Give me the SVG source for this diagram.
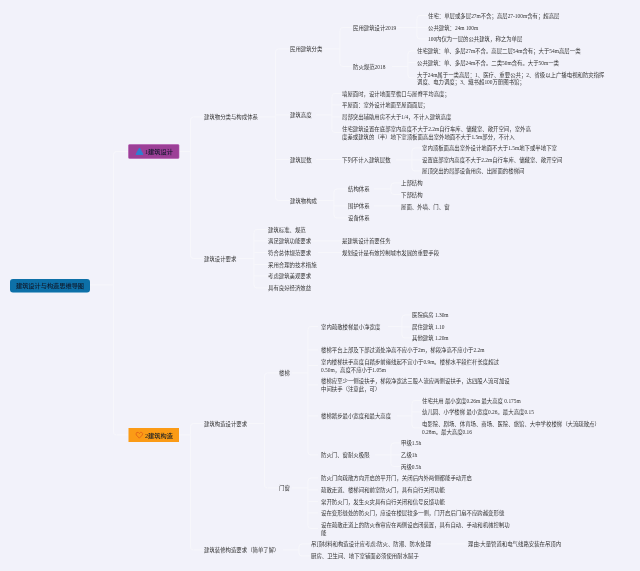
<svg xmlns="http://www.w3.org/2000/svg" width="640" height="571" viewBox="0 0 640 571">
<defs><filter id="soft" x="0" y="0" width="100%" height="100%"><feGaussianBlur stdDeviation="0.3"/></filter></defs>
<style>
text{font-family:"Liberation Serif","Noto Sans CJK SC",sans-serif;font-size:5.4px;fill:#333}
.c{fill:none;stroke:#f7f7fc;stroke-width:.9}
.h{font-size:6.2px;fill:#10192a;font-weight:500}
</style>
<rect width="640" height="571" fill="#f2f2fa"/>
<g filter="url(#soft)">
<g id="connectors" class="c">
<path d="M90 285H113.500M128.500 151.500H116.500Q113.500 151.500 113.500 154.500V432Q113.500 435 116.500 435H128.500"/>
<path d="M179 151.500H190.500M204 117H193.500Q190.500 117 190.500 120V255.500Q190.500 258.500 193.500 258.500H204"/>
<path d="M179 435H190.500M204 423.500H193.500Q190.500 423.500 190.500 426.500V547Q190.500 550 193.500 550H204"/>
<path d="M259 117H275.500M290 49H278.500Q275.500 49 275.500 52V197.500Q275.500 200.500 278.500 200.500H290M275.500 115H290M275.500 159.500H290"/>
<path d="M323 49H340M353 27.500H343Q340 27.500 340 30.500V63.500Q340 66.500 343 66.500H353"/>
<path d="M397 27.500H417M428 15.500H420Q417 15.500 417 18.500V36Q417 39 420 39H428M417 27.500H428"/>
<path d="M392 66.500H408M417 51H411Q408 51 408 54V75Q408 78 411 78H417M408 62.500H417"/>
<path d="M316 115H332M342 93.500H335Q332 93.500 332 96.500V129.500Q332 132.500 335 132.500H342M332 105H342M332 117H342"/>
<path d="M316 159.500H342"/>
<path d="M396 160H412M422 148H415Q412 148 412 151V168Q412 171 415 171H422M412 160H422"/>
<path d="M318 200.500H334M348 189H337Q334 189 334 192V215Q334 218 337 218H348M334 206H348"/>
<path d="M374 189H391M401 183H394Q391 183 391 186V191.500Q391 194.500 394 194.500H401M374 206H401"/>
<path d="M238 258.500H254M268 229.500H257Q254 229.500 254 232.500V285Q254 288 257 288H268M254 241H268M254 252.500H268M254 264.500H268M254 276H268"/>
<path d="M312 241H342M318 252.500H342"/>
<path d="M248 423.500H264.500M279 373H267.500Q264.500 373 264.500 376V485Q264.500 488 267.500 488H279"/>
<path d="M292 373H308M318 326.500H311Q308 326.500 308 329.500V452Q308 455 311 455H318M308 350H318M308 365.500H318M308 385H318M308 416H318"/>
<path d="M388 326.500H402M412 315H405Q402 315 402 318V335Q402 338 405 338H412M402 327H412"/>
<path d="M397 416H412M422 400.500H415Q412 400.500 412 403.500V425Q412 428 415 428H422M412 412H422"/>
<path d="M375 455H391M401 443H394Q391 443 391 446V463.500Q391 466.500 394 466.500H401M391 455H401"/>
<path d="M292 488H308M318 478H311Q308 478 308 481V525.500Q308 528.500 311 528.500H318M308 490H318M308 501.500H318M308 513H318"/>
<path d="M283 550H299M311 544H302Q299 544 299 547V553Q299 556 302 556H311"/>
<path d="M437 544H466"/>
</g>
<g id="root"><rect x="10" y="279" width="80" height="13.500" rx="3" fill="#0a6fa8"/><text class="h" x="50" y="288" text-anchor="middle">建筑设计与构造思维导图</text></g>
<g id="design"><rect x="128.500" y="144.500" width="50.500" height="14" rx="1" fill="#9c3f97" stroke="#b45bb0" stroke-width=".6"/><path d="M139.500 148L143 154.500H136Z" fill="#2f7fd0" stroke="#2f7fd0" stroke-width="1" stroke-linejoin="round"/><text class="h" x="145" y="154">1建筑设计</text></g>
<g id="structure"><rect x="128.500" y="428" width="50.500" height="14" fill="#fb9b12"/><path d="M139.300 438.200L136.300 435Q135.400 433 137 432.400Q138.500 432 139.300 433.500Q140.200 432 141.700 432.400Q143.300 433 142.300 435Z" fill="none" stroke="#d9481c" stroke-width=".6"/><text class="h" x="145" y="437.500">2建筑构造</text></g>
<g id="n01"><text x="204" y="119">建筑物分类与构成体系</text></g>
<g id="n02"><text x="290" y="51">民用建筑分类</text></g>
<g id="n03"><text x="353" y="29.500">民用建筑设计2019</text></g>
<g id="n04"><text x="428" y="17.500">住宅：单层或多层27m不含；高层27-100m含有；超高层</text></g>
<g id="n05"><text x="428" y="29.500">公共建筑：24m 100m</text></g>
<g id="n06"><text x="428" y="41">100内仅为一层的公共建筑，称之为单层</text></g>
<g id="n07"><text x="353" y="68.500">防火规范2018</text></g>
<g id="n08"><text x="417" y="53">住宅建筑：单、多层27m不含。高层二层54m含有；大于54m高层一类</text></g>
<g id="n09"><text x="417" y="64.500">公共建筑：单、多层24m不含。二类50m含有。大于50m一类</text></g>
<g id="n10"><text x="417" y="76.500">大于24m属于一类高层：1、医疗、重要公共；2、省级以上广播电视和防灾指挥<tspan x="417" dy="7.800">调度、电力调度；3、藏书超100万册图书馆；</tspan></text></g>
<g id="n11"><text x="290" y="117">建筑高度</text></g>
<g id="n12"><text x="342" y="95.500">墙屋面时，设计地面至檐口与屋脊平均高度；</text></g>
<g id="n13"><text x="342" y="107">平屋面：室外设计地面至屋面面层；</text></g>
<g id="n14"><text x="342" y="119">局部突出辅助用房不大于1/4，不计入建筑高度</text></g>
<g id="n15"><text x="342" y="130.500">住宅建筑设置在底部室内高度不大于2.2m自行车库、储藏室、敞开空间，室外高<tspan x="342" dy="8">度差或建筑的（半）地下室顶板面高出室外地面不大于1.5m部分，不计入</tspan></text></g>
<g id="n16"><text x="290" y="161.500">建筑层数</text></g>
<g id="n17"><text x="342" y="162">下列不计入建筑层数</text></g>
<g id="n18"><text x="422" y="150">室内顶板面高出室外设计地面不大于1.5m地下或半地下室</text></g>
<g id="n19"><text x="422" y="162">设置底部室内高度不大于2.2m自行车库、储藏室、敞开空间</text></g>
<g id="n20"><text x="422" y="173">屋顶突出的局部设备用房、出屋面的楼梯间</text></g>
<g id="n21"><text x="290" y="202.500">建筑物构成</text></g>
<g id="n22"><text x="348" y="191">结构体系</text></g>
<g id="n23"><text x="348" y="208">围护体系</text></g>
<g id="n24"><text x="348" y="220">设备体系</text></g>
<g id="n25"><text x="401" y="185">上部结构</text></g>
<g id="n26"><text x="401" y="196.500">下部结构</text></g>
<g id="n27"><text x="401" y="208.500">屋面、外墙、门、窗</text></g>
<g id="n28"><text x="204" y="260.500">建筑设计要求</text></g>
<g id="n29"><text x="268" y="231.500">建筑标准、规范</text></g>
<g id="n30"><text x="268" y="243">满足建筑功能要求</text></g>
<g id="n31"><text x="268" y="254.500">符合总体规范要求</text></g>
<g id="n32"><text x="268" y="266.500">采用合理的技术措施</text></g>
<g id="n33"><text x="268" y="278">考虑建筑美观要求</text></g>
<g id="n34"><text x="268" y="290">具有良好经济效益</text></g>
<g id="n35"><text x="342" y="243">是建筑设计首要任务</text></g>
<g id="n36"><text x="342" y="254.500">规划设计是有效控制城市发展的重要手段</text></g>
<g id="n37"><text x="204" y="425.500">建筑构造设计要求</text></g>
<g id="n38"><text x="279" y="375">楼梯</text></g>
<g id="n39"><text x="321" y="328.500">室内疏散楼梯最小净宽度</text></g>
<g id="n40"><text x="412" y="317">医院病房 1.30m</text></g>
<g id="n41"><text x="412" y="329">居住建筑 1.10</text></g>
<g id="n42"><text x="412" y="340">其他建筑 1.20m</text></g>
<g id="n43"><text x="321" y="352">楼梯平台上部及下部过道处净高不应小于2m，梯段净高不应小于2.2m</text></g>
<g id="n44"><text x="321" y="363.500">室内楼梯扶手高度自踏步前缘线起不宜小于0.9m。楼梯水平段栏杆长度超过<tspan x="321" dy="8">0.50m，高度不应小于1.05m</tspan></text></g>
<g id="n45"><text x="321" y="383">楼梯应至少一侧设扶手，梯段净宽达三股人流应两侧设扶手，达四股人流可加设<tspan x="321" dy="8">中间扶手（注意此，可）</tspan></text></g>
<g id="n46"><text x="321" y="418">楼梯踏步最小宽度和最大高度</text></g>
<g id="n47"><text x="422" y="402.500">住宅共用 最小宽度0.26m 最大高度 0.175m</text></g>
<g id="n48"><text x="422" y="414">幼儿园、小学楼梯 最小宽度0.26。最大高度0.15</text></g>
<g id="n49"><text x="422" y="426">电影院、剧场、体育场、商场、医院、旅馆、大中学校楼梯（大流疏散点）<tspan x="422" dy="7.800">0.28m。最大高度0.16</tspan></text></g>
<g id="n50"><text x="321" y="457">防火门、窗耐火极限</text></g>
<g id="n51"><text x="401" y="445">甲级1.5h</text></g>
<g id="n52"><text x="401" y="457">乙级1h</text></g>
<g id="n53"><text x="401" y="468.500">丙级0.5h</text></g>
<g id="n54"><text x="279" y="490">门窗</text></g>
<g id="n55"><text x="321" y="480">防火门向疏散方向开启的平开门，关闭后内外两侧都能手动开启</text></g>
<g id="n56"><text x="321" y="492">疏散走道、楼梯间和前室防火门，具有自行关闭功能</text></g>
<g id="n57"><text x="321" y="503.500">常开防火门，发生火灾具有自行关闭和信号反馈功能</text></g>
<g id="n58"><text x="321" y="515">设在变形缝处的防火门，应设在楼层较多一侧，门开启后门扇不应跨越变形缝</text></g>
<g id="n59"><text x="321" y="526.500">设在疏散走道上的防火卷帘应在两侧设启闭装置，具有自动、手动和机械控制功<tspan x="321" dy="8">能</tspan></text></g>
<g id="n60"><text x="204" y="552">建筑装修构造要求（简单了解）</text></g>
<g id="n61"><text x="311" y="546">吊顶材料和构造设计应考虑:防火、防潮、防水处理</text></g>
<g id="n62"><text x="468" y="546">理由:大量管道和电气线路安装在吊顶内</text></g>
<g id="n63"><text x="311" y="558">厨房、卫生间、地下室铺面必须使用耐水腻子</text></g>
</g>
</svg>
